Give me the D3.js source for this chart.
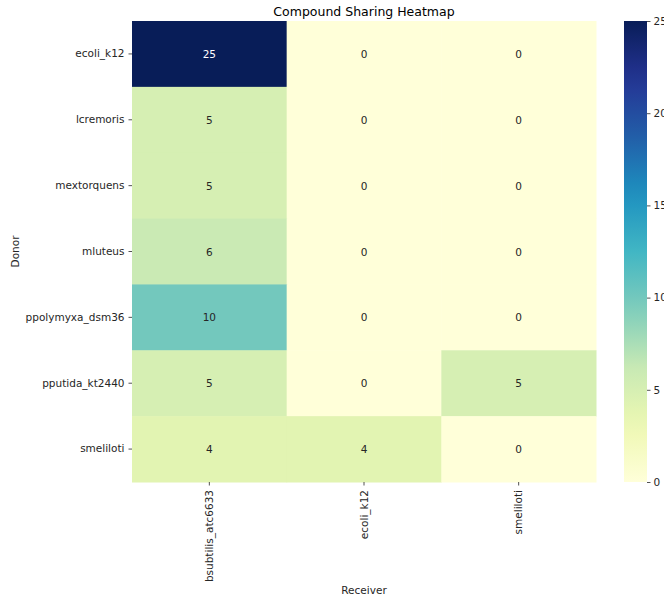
<!DOCTYPE html>
<html>
<head>
<meta charset="utf-8">
<script src="https://cdn.jsdelivr.net/npm/d3@7"></script>
<style>
  html, body { margin: 0; padding: 0; background: #fff; overflow: hidden; }
  svg { display: block; font-family: "DejaVu Sans", sans-serif; }
</style>
</head>
<body>
<svg id="chart" width="664" height="598"></svg>
<script>
// Donor organisms (rows) and receiver organisms (columns)
const donors = ["ecoli_k12", "lcremoris", "mextorquens", "mluteus", "ppolymyxa_dsm36", "pputida_kt2440", "smeliloti"];
const receivers = ["bsubtilis_atc6633", "ecoli_k12", "smeliloti"];

// Shared compound counts, one array per receiver column
const toBsubtilis = [25, 5, 5, 6, 10, 5, 4];
const toEcoli = [0, 0, 0, 0, 0, 0, 4];
const toSmeliloti = [0, 0, 0, 0, 0, 5, 0];

const colorbarTicks = [0, 5, 10, 15, 20, 25];
const valueMax = 25;

const columns = [toBsubtilis, toEcoli, toSmeliloti];
const cells = [];
donors.forEach((d, i) => {
  receivers.forEach((r, j) => {
    cells.push({ donor: d, receiver: r, value: columns[j][i] });
  });
});

// YlGnBu palette, linearly interpolated across the value range
const ylgnbu = ["#ffffd9", "#edf8b1", "#c7e9b4", "#7fcdbb", "#41b6c4", "#1d91c0", "#225ea8", "#253494", "#081d58"];
const color = d3.scaleLinear()
  .domain(ylgnbu.map((_, k) => k * valueMax / (ylgnbu.length - 1)))
  .range(ylgnbu)
  .interpolate(d3.interpolateRgb);

const svg = d3.select("#chart");
const plot = { left: 132, right: 596, top: 21, bottom: 482 };

const x = d3.scaleBand().domain(receivers).range([plot.left, plot.right]);
const y = d3.scaleBand().domain(donors).range([plot.top, plot.bottom]);

const textColor = "#262626";

// Cells
svg.append("g").selectAll("rect").data(cells).join("rect")
  .attr("x", d => x(d.receiver))
  .attr("y", d => y(d.donor))
  .attr("width", x.bandwidth() + 0.5)
  .attr("height", y.bandwidth() + 0.5)
  .attr("fill", d => color(d.value));

// Value annotations
svg.append("g").selectAll("text").data(cells).join("text")
  .attr("x", d => x(d.receiver) + x.bandwidth() / 2)
  .attr("y", d => y(d.donor) + y.bandwidth() / 2)
  .attr("text-anchor", "middle")
  .attr("dominant-baseline", "central")
  .attr("font-size", 10.5)
  .attr("fill", d => d3.hsl(color(d.value)).l < 0.45 ? "#ffffff" : textColor)
  .text(d => d.value);

// Axes
const xAxis = svg.append("g")
  .attr("transform", `translate(0,${plot.bottom})`)
  .call(d3.axisBottom(x).tickSize(3.5).tickPadding(3));
xAxis.select(".domain").remove();
xAxis.selectAll("line").attr("stroke", textColor).attr("stroke-width", 0.8);
xAxis.selectAll("text")
  .attr("font-size", 10.5)
  .attr("font-family", "DejaVu Sans, sans-serif")
  .attr("fill", textColor)
  .attr("transform", "rotate(-90)")
  .attr("text-anchor", "end")
  .attr("dy", "0.35em")
  .attr("x", -8)
  .attr("y", 0);

const yAxis = svg.append("g")
  .attr("transform", `translate(${plot.left},0)`)
  .call(d3.axisLeft(y).tickSize(3.5).tickPadding(4));
yAxis.select(".domain").remove();
yAxis.selectAll("line").attr("stroke", textColor).attr("stroke-width", 0.8);
yAxis.selectAll("text")
  .attr("font-size", 10.5)
  .attr("font-family", "DejaVu Sans, sans-serif")
  .attr("fill", textColor);

// Title and axis labels
svg.append("text")
  .attr("x", (plot.left + plot.right) / 2).attr("y", 16)
  .attr("text-anchor", "middle")
  .attr("font-size", 12.5)
  .attr("fill", "#000")
  .text("Compound Sharing Heatmap");

svg.append("text")
  .attr("x", (plot.left + plot.right) / 2).attr("y", 594)
  .attr("text-anchor", "middle")
  .attr("font-size", 10.5)
  .attr("fill", textColor)
  .text("Receiver");

svg.append("text")
  .attr("transform", `translate(19,${(plot.top + plot.bottom) / 2}) rotate(-90)`)
  .attr("text-anchor", "middle")
  .attr("font-size", 10.5)
  .attr("fill", textColor)
  .text("Donor");

// Colorbar
const cb = { x: 624, width: 23 };
const cbScale = d3.scaleLinear().domain([0, valueMax]).range([plot.bottom, plot.top]);
const defs = svg.append("defs");
const grad = defs.append("linearGradient")
  .attr("id", "cbGrad").attr("x1", 0).attr("y1", 1).attr("x2", 0).attr("y2", 0);
d3.range(0, 1.0001, 0.05).forEach(t => {
  grad.append("stop").attr("offset", t).attr("stop-color", color(t * valueMax));
});
svg.append("rect")
  .attr("x", cb.x).attr("y", plot.top)
  .attr("width", cb.width).attr("height", plot.bottom - plot.top)
  .attr("fill", "url(#cbGrad)");

const cbAxis = svg.append("g")
  .attr("transform", `translate(${cb.x + cb.width},0)`)
  .call(d3.axisRight(cbScale).tickValues(colorbarTicks).tickSize(3.5).tickPadding(3));
cbAxis.select(".domain").remove();
cbAxis.selectAll("line").attr("stroke", textColor).attr("stroke-width", 0.8);
cbAxis.selectAll("text")
  .attr("font-size", 10.5)
  .attr("font-family", "DejaVu Sans, sans-serif")
  .attr("fill", textColor);
</script>
</body>
</html>
